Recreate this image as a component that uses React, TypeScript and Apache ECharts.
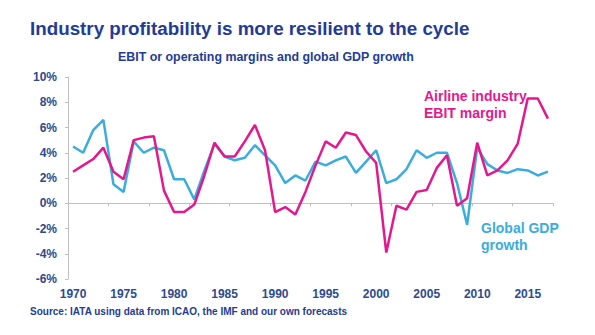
import React, { useEffect, useRef } from "react";
import * as echarts from "echarts";

const years: string[] = [];
for (let y = 1970; y <= 2017; y++) years.push(String(y));

const ebitMargin = [
  2.5, 3.0, 3.5, 4.4, 2.5, 1.9, 5.0, 5.2, 5.3, 1.0,
  -0.7, -0.7, -0.1, 2.2, 4.8, 3.7, 3.7, 4.9, 6.2, 4.2,
  -0.7, -0.3, -0.9, 0.9, 3.0, 4.9, 4.4, 5.6, 5.4, 4.1,
  3.2, -3.9, -0.2, -0.5, 0.9, 1.05, 2.8, 3.8, -0.2, 0.4,
  4.8, 2.2, 2.6, 3.4, 4.7, 8.3, 8.3, 6.7,
];

const gdpGrowth = [
  4.5, 4.0, 5.8, 6.6, 1.5, 0.9, 4.9, 4.0, 4.4, 4.2,
  1.9, 1.9, 0.3, 2.6, 4.7, 3.7, 3.4, 3.6, 4.6, 3.8,
  3.0, 1.6, 2.2, 1.8, 3.3, 3.0, 3.4, 3.7, 2.4, 3.3,
  4.2, 1.6, 1.9, 2.7, 4.2, 3.6, 4.0, 4.0, 1.6, -1.7,
  4.4, 3.1, 2.6, 2.4, 2.7, 2.6, 2.2, 2.5,
];

const PINK = "#E5178F";
const BLUE = "#3AADDC";
const NAVY = "#1F3C96";
const AXIS_TEXT = "#2E4A8E";
const FONT = "Liberation Sans, Arial, sans-serif";

export default function App() {
  const ref = useRef<HTMLDivElement>(null);
  useEffect(() => {
    if (!ref.current) return;
    const chart = echarts.init(ref.current, null, { renderer: "svg" });
    chart.setOption({
      animation: false,
      backgroundColor: "#ffffff",
      textStyle: { fontFamily: FONT },
      title: [
        {
          text: "Industry profitability is more resilient to the cycle",
          left: 30,
          top: 19,
          padding: 0,
          textStyle: { color: NAVY, fontSize: 18.8, fontWeight: "bold", fontFamily: FONT },
        },
        {
          text: "EBIT or operating margins and global GDP growth",
          left: 118,
          top: 51,
          padding: 0,
          textStyle: { color: NAVY, fontSize: 12.4, fontWeight: "bold", fontFamily: FONT },
        },
      ],
      graphic: [
        {
          type: "text",
          left: 30,
          top: 306,
          style: {
            text: "Source: IATA using data from ICAO, the IMF and our own forecasts",
            fill: NAVY,
            font: `bold 10px ${FONT}`,
          },
        },
        {
          type: "text",
          left: 424,
          top: 87,
          style: {
            text: "Airline industry\nEBIT margin",
            fill: PINK,
            font: `bold 14px ${FONT}`,
            lineHeight: 17,
          },
        },
        {
          type: "text",
          left: 481,
          top: 219,
          style: {
            text: "Global GDP\ngrowth",
            fill: BLUE,
            font: `bold 14px ${FONT}`,
            lineHeight: 17,
          },
        },
      ],
      grid: { left: 68, right: 42, top: 77, bottom: 56 },
      xAxis: [
        {
          type: "category",
          data: years,
          boundaryGap: true,
          axisLine: { onZero: true, lineStyle: { color: "#BFBFBF", width: 1 } },
          axisTick: { show: true, length: 3, lineStyle: { color: "#BFBFBF" } },
          axisLabel: { show: false },
          splitLine: { show: false },
        },
        {
          type: "category",
          data: years,
          position: "bottom",
          boundaryGap: true,
          axisLine: { show: false, onZero: false },
          axisTick: { show: false },
          axisLabel: {
            interval: 4,
            color: AXIS_TEXT,
            fontSize: 12,
            fontWeight: "bold",
            fontFamily: FONT,
            margin: 9,
          },
          splitLine: { show: false },
        },
      ],
      yAxis: {
        type: "value",
        min: -6,
        max: 10,
        interval: 2,
        axisLine: { show: true, lineStyle: { color: "#BFBFBF", width: 1 } },
        axisTick: { show: true, length: 3, lineStyle: { color: "#BFBFBF" } },
        axisLabel: {
          formatter: "{value}%",
          color: AXIS_TEXT,
          fontSize: 12,
          fontWeight: "bold",
          fontFamily: FONT,
          margin: 11,
        },
        splitLine: { show: false },
      },
      series: [
        {
          name: "Global GDP growth",
          type: "line",
          data: gdpGrowth,
          xAxisIndex: 0,
          showSymbol: false,
          lineStyle: { color: BLUE, width: 2.5 },
          itemStyle: { color: BLUE },
        },
        {
          name: "Airline industry EBIT margin",
          type: "line",
          data: ebitMargin,
          xAxisIndex: 0,
          showSymbol: false,
          lineStyle: { color: PINK, width: 2.5 },
          itemStyle: { color: PINK },
        },
      ],
    });
    return () => chart.dispose();
  }, []);
  return <div ref={ref} style={{ width: 595, height: 335, position: "absolute", left: 0, top: 0 }} />;
}
